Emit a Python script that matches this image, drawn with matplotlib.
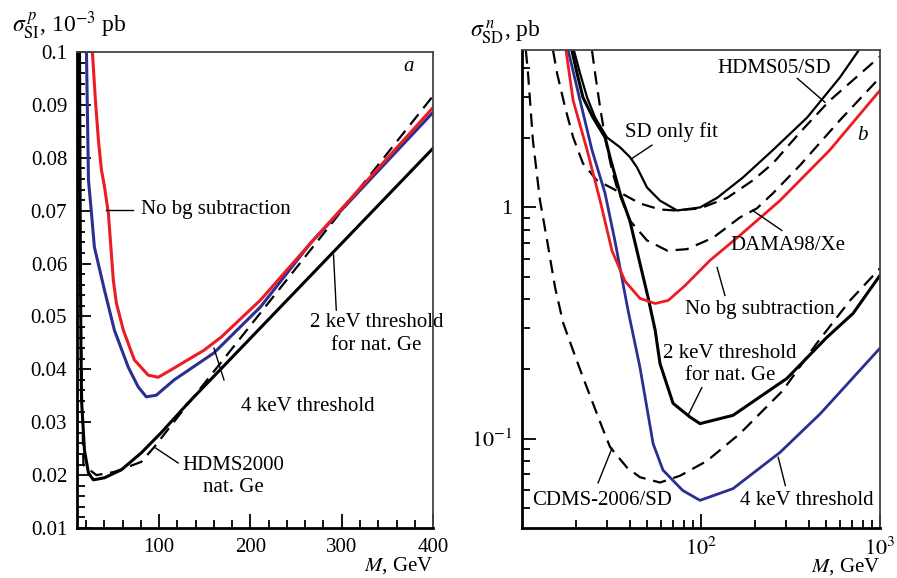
import matplotlib

matplotlib.use("Agg")

import matplotlib.pyplot as plt
import numpy as np
from matplotlib.ticker import FixedLocator, MultipleLocator, FuncFormatter, LogLocator, NullFormatter

plt.rcParams['font.family'] = ['Liberation Serif', 'DejaVu Serif']
plt.rcParams['mathtext.fontset'] = 'stix'
plt.rcParams['font.size'] = 15

RED = '#ec1c24'
BLUE = '#2b2f91'
DASH = (0, (6, 3.5))

# ---- panel a: spin-independent, mass in GeV, cross section in 10^-3 pb ----
a_nobg_m = [26.9, 30.2, 33.5, 36.8, 40.0, 44.4, 49.8, 53.2, 60.8, 72.8, 88, 99, 113, 149, 168, 211, 266, 400]
a_nobg_s = [0.1, 0.0909, 0.0833, 0.0777, 0.0747, 0.0695, 0.0569, 0.0525, 0.0474, 0.0418, 0.0389, 0.0385,
            0.0399, 0.0436, 0.0461, 0.0531, 0.0639, 0.0895]

a_4kev_m = [20.4, 22.6, 25.9, 29.1, 40.1, 51, 66.2, 77, 85.9, 96.8, 116.4, 160, 211, 266, 400]
a_4kev_s = [0.1, 0.0758, 0.0695, 0.0631, 0.055, 0.0474, 0.0404, 0.0367, 0.0348, 0.0351, 0.038, 0.0431,
            0.0518, 0.0639, 0.0886]

a_2kev_m = [12.8, 13.5, 14.3, 15, 18.2, 22.6, 28, 40.1, 58.6, 80.4, 102.1, 131.6, 400]
a_2kev_s = [0.1, 0.07, 0.045, 0.0342, 0.0247, 0.0204, 0.0191, 0.0195, 0.021, 0.0242, 0.028, 0.0336, 0.0818]

a_hdms_m = [12, 13.5, 15.5, 17.1, 31.3, 50.9, 80.4, 94.6, 126.3, 400]
a_hdms_s = [0.1, 0.06, 0.035, 0.0219, 0.02, 0.0206, 0.0225, 0.0253, 0.0323, 0.0917]

# ---- panel b: spin-dependent on neutron, pb ----
b_nobg_m = [17.6, 19.3, 23.1, 27.3, 31.8, 37.6, 45.6, 55.5, 65.6, 81.4, 112, 165, 276, 524, 1000]
b_nobg_s = [4.78, 2.9, 1.77, 1.07, 0.65, 0.48, 0.404, 0.384, 0.396, 0.459, 0.589, 0.757, 1.07, 1.77, 3.21]

b_4kev_m = [18.1, 21.1, 24.6, 29.1, 33, 39.1, 45.6, 54, 61.3, 79, 98.7, 151, 276, 464, 1000]
b_4kev_s = [4.78, 2.9, 1.77, 1.15, 0.72, 0.359, 0.203, 0.095, 0.073, 0.0596, 0.054, 0.0607, 0.087, 0.128, 0.246]

b_2kev_m = [19.0, 20.3, 21.9, 24.9, 29.1, 31, 35.3, 40, 45.6, 50.6, 55.5, 59, 69.8, 86.6, 98.7, 151, 302, 505,
            708, 1000]
b_2kev_s = [4.78, 3.8, 2.99, 2.45, 2.01, 1.65, 1.15, 0.878, 0.572, 0.408, 0.293, 0.211, 0.142, 0.124, 0.116,
            0.126, 0.182, 0.274, 0.348, 0.508]

b_sdfit_m = [19.5, 21.1, 23.1, 25.6, 29.8, 35.3, 40.1, 43.9, 49.9, 59, 73.5, 98.7, 123, 172, 252, 392, 597, 760]
b_sdfit_s = [4.78, 3.8, 2.99, 2.45, 2.01, 1.82, 1.65, 1.49, 1.22, 1.07, 0.97, 1.0, 1.10, 1.35, 1.77, 2.45,
             3.65, 4.78]

b_hdms_m = [14.9, 15.7, 17.4, 19.3, 21.9, 26.2, 33.9, 45.6, 59, 71.5, 98.7, 140, 195, 252, 357, 524, 1000]
b_hdms_s = [4.78, 3.8, 2.71, 2.01, 1.55, 1.31, 1.18, 1.04, 0.98, 0.97, 0.99, 1.10, 1.31, 1.55, 2.11, 2.90, 4.5]

b_dama_m = [24.6, 25.6, 27.3, 29.1, 31.8, 33.9, 40.0, 49.9, 64.8, 83.6, 117, 165, 205, 252, 357, 596, 1000]
b_dama_s = [4.78, 3.8, 2.71, 2.01, 1.45, 1.22, 0.878, 0.72, 0.65, 0.66, 0.74, 0.905, 0.99, 1.15, 1.52, 2.38,
            3.65]

b_cdms_m = [10.5, 10.8, 11.5, 12.6, 13.8, 15.3, 17.0, 19.3, 21.9, 24.9, 28.0, 31, 38.5, 45.6, 59, 76.3, 108,
            165, 286, 443, 681, 1000]
b_cdms_s = [4.78, 3.8, 1.95, 1.07, 0.72, 0.45, 0.315, 0.24, 0.184, 0.142, 0.112, 0.092, 0.075, 0.068, 0.0645,
            0.069, 0.080, 0.105, 0.161, 0.258, 0.396, 0.545]


def style_axes(ax):
    for side in ('left', 'bottom'):
        ax.spines[side].set_linewidth(2.0)
    for side in ('top', 'right'):
        ax.spines[side].set_linewidth(1.3)
        ax.spines[side].set_color('#444444')
    ax.tick_params(which='both', direction='in', top=False, right=False, width=1.3)
    ax.tick_params(which='major', length=10, labelsize=15, pad=7)
    ax.tick_params(which='minor', length=6)


def leader(ax, x0, y0, x1, y1):
    ax.plot([x0, x1], [y0, y1], color='black', lw=1.0)


fig = plt.figure(figsize=(8.97, 5.78), dpi=100)
ax1 = fig.add_axes([0.0858, 0.0865, 0.397, 0.8235])
ax2 = fig.add_axes([0.582, 0.0865, 0.399, 0.827])

# Panel a
ax1.plot(a_hdms_m, a_hdms_s, color='black', lw=1.6, linestyle=DASH)
ax1.plot(a_2kev_m, a_2kev_s, color='black', lw=2.2)
ax1.plot(a_4kev_m, a_4kev_s, color=BLUE, lw=2.2)
ax1.plot(a_nobg_m, a_nobg_s, color=RED, lw=2.2)
ax1.set_xlim(10, 400)
ax1.set_ylim(0.01, 0.1)
ax1.xaxis.set_major_locator(FixedLocator([100, 200, 300, 400]))
ax1.xaxis.set_minor_locator(MultipleLocator(20))
ax1.yaxis.set_major_locator(MultipleLocator(0.01))
ax1.yaxis.set_minor_locator(MultipleLocator(0.002))
ax1.yaxis.set_major_formatter(FuncFormatter(lambda v, p: "0.1" if abs(v - 0.1) < 1e-9 else f"{v:.2f}"))
style_axes(ax1)
ax1.set_xlabel(r'$M$, GeV', loc='right', labelpad=-1)

ax1.text(80.4, 0.0703, 'No bg subtraction', va='center', ha='left')
leader(ax1, 42.3, 0.0701, 71.8, 0.0701)
ax1.text(338, 0.0488, '2 keV threshold', va='center', ha='center')
ax1.text(338, 0.0446, 'for nat. Ge', va='center', ha='center')
leader(ax1, 291, 0.0616, 294, 0.0512)
ax1.text(190, 0.0329, '4 keV threshold', va='center', ha='left')
leader(ax1, 160, 0.0440, 171, 0.0380)
ax1.text(181, 0.0219, 'HDMS2000', va='center', ha='center')
ax1.text(181, 0.0176, 'nat. Ge', va='center', ha='center')
leader(ax1, 94.6, 0.0253, 120.8, 0.0223)
ax1.text(373, 0.0973, 'a', style='italic', va='center', ha='center')

# Panel b
ax2.plot(b_cdms_m, b_cdms_s, color='black', lw=1.6, linestyle=DASH)
ax2.plot(b_hdms_m, b_hdms_s, color='black', lw=1.6, linestyle=DASH)
ax2.plot(b_dama_m, b_dama_s, color='black', lw=1.6, linestyle=DASH)
ax2.plot(b_sdfit_m, b_sdfit_s, color='black', lw=1.6)
ax2.plot(b_2kev_m, b_2kev_s, color='black', lw=2.2)
ax2.plot(b_4kev_m, b_4kev_s, color=BLUE, lw=2.0)
ax2.plot(b_nobg_m, b_nobg_s, color=RED, lw=2.0)
ax2.set_xscale('log')
ax2.set_yscale('log')
ax2.set_xlim(10, 1000)
ax2.set_ylim(0.041, 4.8)
ax2.xaxis.set_major_locator(FixedLocator([100, 1000]))
ax2.xaxis.set_minor_locator(LogLocator(base=10, subs=np.arange(2, 10)))
ax2.xaxis.set_minor_formatter(NullFormatter())
ax2.yaxis.set_major_locator(FixedLocator([0.1, 1]))
ax2.yaxis.set_minor_locator(LogLocator(base=10, subs=np.arange(2, 10)))
ax2.yaxis.set_minor_formatter(NullFormatter())
ax2.xaxis.set_major_formatter(FuncFormatter(lambda v, p: r'$10^{%d}$' % round(np.log10(v))))
ax2.yaxis.set_major_formatter(FuncFormatter(lambda v, p: '1' if v == 1 else r'$10^{-1}$'))
style_axes(ax2)
ax2.tick_params(axis='x', which='major', labelsize=16)
ax2.tick_params(axis='y', which='major', labelsize=16)
ax2.set_xlabel(r'$M$, GeV', loc='right', labelpad=-3)

ax2.text(37.6, 2.11, 'SD only fit', va='center', ha='left')
leader(ax2, 41.2, 1.63, 53.2, 1.86)
ax2.text(123, 4.0, 'HDMS05/SD', va='center', ha='left')
leader(ax2, 345, 3.62, 493, 2.85)
ax2.text(145, 0.685, 'DAMA98/Xe', va='center', ha='left')
leader(ax2, 194, 0.971, 283, 0.795)
ax2.text(81.4, 0.362, 'No bg subtraction', va='center', ha='left')
leader(ax2, 123, 0.55, 136, 0.416)
ax2.text(145, 0.233, '2 keV threshold', va='center', ha='center')
ax2.text(145, 0.187, 'for nat. Ge', va='center', ha='center')
leader(ax2, 101, 0.166, 84.7, 0.126)
ax2.text(165, 0.054, '4 keV threshold', va='center', ha='left')
leader(ax2, 270, 0.0829, 296, 0.0626)
ax2.text(11.4, 0.054, 'CDMS-2006/SD', va='center', ha='left')
leader(ax2, 31.8, 0.0907, 26.6, 0.0643)
ax2.text(795, 2.05, 'b', style='italic', va='center', ha='center')

fig.text(12 / 897, 1 - 26 / 578, r'$\sigma^{\,p}_{\rm SI}$, 10$^{-3}$ pb', va='center', ha='left', fontsize=17)
fig.text(470 / 897, 1 - 32 / 578, r'$\sigma^{\,n}_{\rm SD}$, pb', va='center', ha='left', fontsize=17)

fig.savefig('out.png', dpi=100)
